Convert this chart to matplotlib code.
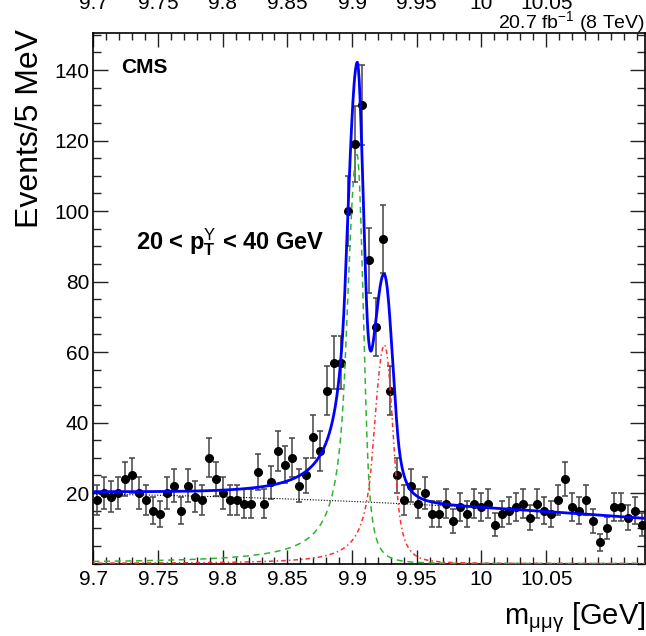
import numpy as np
import matplotlib
matplotlib.use('Agg')
import matplotlib.pyplot as plt
from matplotlib.ticker import MultipleLocator
from matplotlib.transforms import blended_transform_factory

plt.rcParams['font.family'] = ['Liberation Sans', 'DejaVu Sans']
plt.rcParams['mathtext.fontset'] = 'custom'
plt.rcParams['mathtext.rm'] = 'Liberation Sans'
plt.rcParams['mathtext.it'] = 'Liberation Sans:italic'
plt.rcParams['mathtext.bf'] = 'Liberation Sans:bold'

# binned data (events per bin)
x_lo, x_hi = 9.7, 10.1266
bin_w = 0.0054
counts = [18, 20, 19, 20, 24, 25, 20, 18, 15, 14,
          20, 22, 15, 22, 19, 18, 30, 24, 20, 18,
          18, 17, 17, 26, 17, 23, 32, 28, 30, 22,
          25, 36, 32, 49, 57, 57, 100, 119, 130, 86,
          67, 92, 49, 25, 18, 22, 17, 20, 14, 14,
          17, 12, 16, 14, 17, 16, 17, 11, 14, 15,
          16, 17, 13, 17, 15, 14, 18, 24, 16, 15,
          18, 12, 6, 10, 16, 16, 13, 15, 11]

# fit model components:
# (amplitude, mean, sigmaL, alphaL, nL, sigmaR, alphaR, nR)
chib1_par = [116, 9.9038, 0.0077, 1.2, 1.5, 0.0050, 1.5, 3.0]
chib2_par = [62, 9.9250, 0.0080, 1.2, 2.0, 0.0066, 1.5, 3.0]
bkg_par = [19.7, -5.36, -25.4]   # quadratic in (m - 9.7)

top_labels = ['9.7', '9.75', '9.8', '9.85', '9.9', '9.95', '10', '10.05']
top_pos = [9.7, 9.75, 9.8, 9.85, 9.9, 9.95, 10.0, 10.05]


def dscb(x, amp, mu, sL, aL, nL, sR, aR, nR):
    # bifurcated double-sided crystal ball
    y = np.empty_like(x)
    left = x < mu
    t = np.where(left, (x - mu) / sL, (x - mu) / sR)
    y = np.exp(-0.5 * t**2)
    AL = (nL / aL)**nL * np.exp(-0.5 * aL**2); BL = nL / aL - aL
    AR = (nR / aR)**nR * np.exp(-0.5 * aR**2); BR = nR / aR - aR
    lm = t < -aL
    rm = t > aR
    y[lm] = AL * (BL - t[lm])**(-nL)
    y[rm] = AR * (BR + t[rm])**(-nR)
    return amp * y


counts = np.array(counts, dtype=float)
centers = x_lo + bin_w * (np.arange(len(counts)) + 0.5)
err = np.sqrt(counts)

m = np.linspace(x_lo, x_hi, 1500)
s1 = dscb(m, *chib1_par)
s2 = dscb(m, *chib2_par)
u = m - 9.7
bkg = bkg_par[0] + bkg_par[1] * u + bkg_par[2] * u**2
tot = s1 + s2 + bkg

fig = plt.figure(figsize=(6.46, 6.36), dpi=100)
ax = fig.add_axes([93.3 / 646, 1 - 563.5 / 636, 552 / 646, 530.5 / 636])

ax.errorbar(centers, counts, yerr=err, fmt='o', color='black', ms=5.5,
            ecolor='#444444', elinewidth=1.1, capsize=2.5, capthick=1.1, zorder=2)
ax.plot(m, bkg, color='black', lw=0.8, ls=(0, (1, 1.5)), zorder=3)
ax.plot(m, s1, color='#2fb52f', lw=1.1, ls=(0, (4, 3)), zorder=3)
ax.plot(m, s2, color='#ff3030', lw=1.1, ls=(0, (1, 2, 3, 2)), zorder=3)
ax.plot(m, tot, color='#0000ff', lw=2.0, zorder=4)

ax.set_xlim(x_lo, x_hi)
ax.set_ylim(0, 150.5)
ax.set_xticks([9.7, 9.75, 9.8, 9.85, 9.9, 9.95, 10.0, 10.05])
ax.set_xticklabels(['9.7', '9.75', '9.8', '9.85', '9.9', '9.95', '10', '10.05'])
ax.xaxis.set_minor_locator(MultipleLocator(0.01))
ax.set_yticks([20, 40, 60, 80, 100, 120, 140])
ax.yaxis.set_minor_locator(MultipleLocator(5))
ax.tick_params(which='both', direction='in', top=True, right=True, labelsize=15,
               width=1.0, color='#222222')
ax.tick_params(axis='x', which='major', length=10, pad=5)
ax.tick_params(axis='x', which='minor', length=5)
ax.tick_params(axis='y', which='major', length=11, pad=3)
ax.tick_params(axis='y', which='minor', length=5.5)
for sp in ax.spines.values():
    sp.set_linewidth(1.2)

ax.text(0.05, 0.935, 'CMS', transform=ax.transAxes, fontsize=15,
        fontweight='bold', ha='left', va='center')
ax.text(0.077, 0.605, r'20 < $\mathbf{p}_{\mathbf{T}}^{\Upsilon}$ < 40 GeV',
        transform=ax.transAxes, fontsize=17, fontweight='bold',
        ha='left', va='center')

fig.text(645 / 646, 1 - 28 / 636, r'20.7 fb$^{-1}$ (8 TeV)', fontsize=14,
         ha='right', va='baseline')
fig.text(30 / 646, 1 - 29 / 636, 'Events/5 MeV', fontsize=23, rotation=90,
         ha='center', va='top')
fig.text(645 / 646, 1 - 618 / 636, r'm$_{\mathrm{μμγ}}$ [GeV]', fontsize=21,
         ha='right', va='center')

# tick labels of the panel above, cut off by the top edge
tr = blended_transform_factory(ax.transData, fig.transFigure)
for lab, pos in zip(top_labels, top_pos):
    fig.text(pos, 1 - 9 / 636, lab, transform=tr, fontsize=15,
             ha='center', va='baseline')

fig.savefig('out.png', dpi=100)
